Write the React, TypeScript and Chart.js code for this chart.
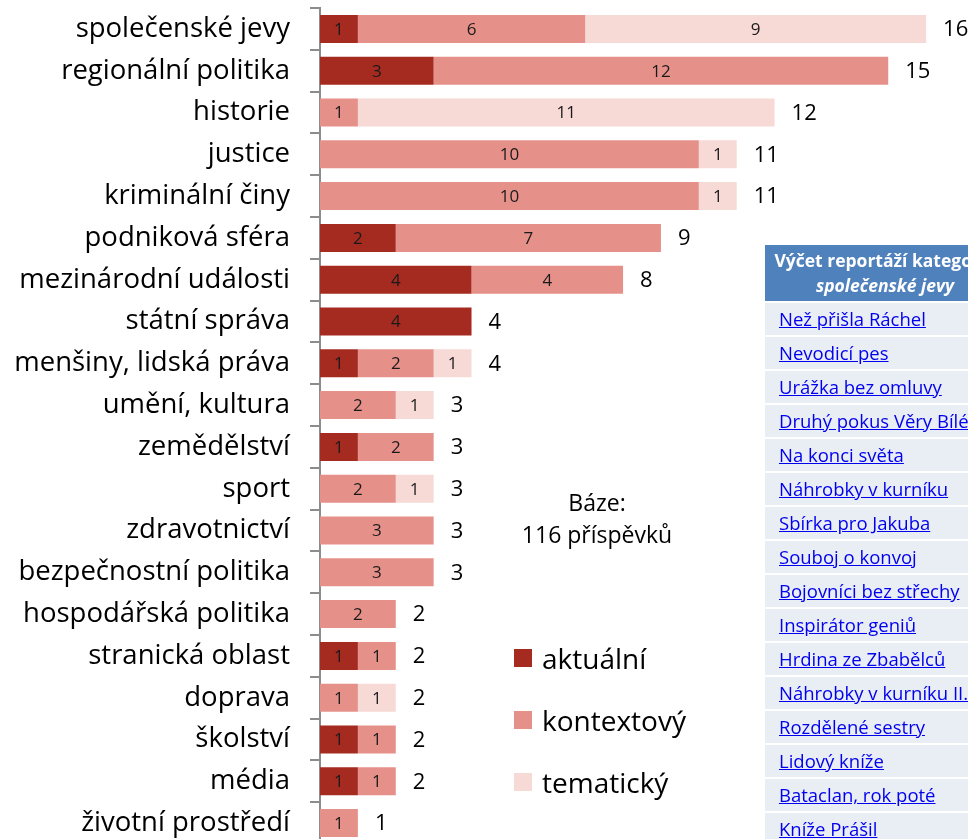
import React, { useEffect, useRef } from "react";
import { Chart, registerables } from "chart.js";
Chart.register(...registerables);

const FONT = "'Open Sans', Lato, sans-serif";

const categories = [
  "společenské jevy",
  "regionální politika",
  "historie",
  "justice",
  "kriminální činy",
  "podniková sféra",
  "mezinárodní události",
  "státní správa",
  "menšiny, lidská práva",
  "umění, kultura",
  "zemědělství",
  "sport",
  "zdravotnictví",
  "bezpečnostní politika",
  "hospodářská politika",
  "stranická oblast",
  "doprava",
  "školství",
  "média",
  "životní prostředí",
];

const aktualni = [1, 3, 0, 0, 0, 2, 4, 4, 1, 0, 1, 0, 0, 0, 0, 1, 0, 1, 1, 0];
const kontextovy = [6, 12, 1, 10, 10, 7, 4, 0, 2, 2, 2, 2, 3, 3, 2, 1, 1, 1, 1, 1];
const tematicky = [9, 0, 11, 1, 1, 0, 0, 0, 1, 1, 0, 1, 0, 0, 0, 0, 1, 0, 0, 0];

const seriesNames = ["aktuální", "kontextový", "tematický"];
const seriesColors = ["#A52B21", "#E6908A", "#F7D9D6"];

const baseText = ["Báze:", "116 příspěvků"];

const tableTitle = ["Výčet reportáží kategorie", "společenské jevy"];
const reportages = [
  "Než přišla Ráchel",
  "Nevodicí pes",
  "Urážka bez omluvy",
  "Druhý pokus Věry Bílé",
  "Na konci světa",
  "Náhrobky v kurníku",
  "Sbírka pro Jakuba",
  "Souboj o konvoj",
  "Bojovníci bez střechy",
  "Inspirátor geniů",
  "Hrdina ze Zbabělců",
  "Náhrobky v kurníku II.",
  "Rozdělené sestry",
  "Lidový kníže",
  "Bataclan, rok poté",
  "Kníže Prášil",
];

export default function App() {
  const ref = useRef<HTMLCanvasElement>(null);

  useEffect(() => {
    if (!ref.current) return;
    const seriesData = [aktualni, kontextovy, tematicky];
    const totals = categories.map((_, i) => aktualni[i] + kontextovy[i] + tematicky[i]);

    const labelsPlugin = {
      id: "valueLabels",
      afterDatasetsDraw(chart: any) {
        const ctx = chart.ctx;
        ctx.save();
        ctx.textAlign = "center";
        ctx.textBaseline = "middle";
        ctx.font = `17px ${FONT}`;
        ctx.fillStyle = "#1a1a1a";
        chart.data.datasets.forEach((ds: any, di: number) => {
          const meta = chart.getDatasetMeta(di);
          meta.data.forEach((el: any, i: number) => {
            const v = ds.data[i];
            if (!v) return;
            const p = el.getProps(["x", "y", "base"], true);
            ctx.fillText(String(v), (p.x + p.base) / 2, p.y + 1);
          });
        });
        const xs = chart.scales.x;
        const ys = chart.scales.y;
        ctx.textAlign = "left";
        ctx.font = `22px ${FONT}`;
        ctx.fillStyle = "#000";
        totals.forEach((t, i) => {
          ctx.fillText(String(t), xs.getPixelForValue(t) + 17, ys.getPixelForValue(i) + 1);
        });
        ctx.restore();
      },
    };

    const chart = new Chart(ref.current, {
      type: "bar",
      data: {
        labels: categories,
        datasets: seriesData.map((d, i) => ({
          label: seriesNames[i],
          data: d,
          backgroundColor: seriesColors[i],
          borderWidth: 0,
          categoryPercentage: 0.67,
          barPercentage: 1,
        })),
      },
      options: {
        indexAxis: "y",
        responsive: false,
        animation: false,
        layout: { padding: { top: 8, bottom: 6, left: 0, right: 36 } },
        plugins: {
          legend: { display: false },
          tooltip: { enabled: false },
        },
        scales: {
          x: { display: false, stacked: true, min: 0, max: 17 },
          y: {
            stacked: true,
            afterFit(scale: any) {
              scale.width = 320;
              scale.paddingTop = 0;
              scale.paddingBottom = 0;
            },
            border: { color: "#8c8c8c", width: 2 },
            grid: {
              drawOnChartArea: false,
              color: "#8c8c8c",
              tickLength: 10,
              lineWidth: 2,
              offset: true,
            },
            ticks: {
              padding: 20,
              color: "#000",
              autoSkip: false,
              font: { family: FONT, size: 27.5 },
            },
          },
        },
      },
      plugins: [labelsPlugin],
    } as any);
    return () => chart.destroy();
  }, []);

  return (
    <div
      style={{
        position: "fixed",
        left: 0,
        top: 0,
        width: 968,
        height: 839,
        overflow: "hidden",
        background: "#fff",
        fontFamily: FONT,
      }}
    >
      <canvas
        ref={ref}
        width={1000}
        height={850}
        style={{ position: "absolute", left: 0, top: 0, width: 1000, height: 850 }}
      />
      <div
        style={{
          position: "absolute",
          left: 497,
          top: 486,
          width: 200,
          textAlign: "center",
          fontSize: 23,
          lineHeight: "32px",
          color: "#000",
        }}
      >
        {baseText.map((t) => (
          <div key={t}>{t}</div>
        ))}
      </div>
      <div style={{ position: "absolute", left: 514, top: 627 }}>
        {seriesNames.map((n, i) => (
          <div
            key={n}
            style={{ display: "flex", alignItems: "center", height: 62, fontSize: 28, color: "#000" }}
          >
            <span
              style={{ display: "inline-block", width: 18, height: 18, background: seriesColors[i], marginRight: 10 }}
            />
            <span>{n}</span>
          </div>
        ))}
      </div>
      <div style={{ position: "absolute", left: 765, top: 245, width: 240 }}>
        <div
          style={{
            background: "#4F81BD",
            color: "#fff",
            fontWeight: "bold",
            fontSize: 17.5,
            textAlign: "center",
            height: 56,
            display: "flex",
            flexDirection: "column",
            justifyContent: "center",
            lineHeight: "25px",
          }}
        >
          <div style={{ whiteSpace: "nowrap" }}>{tableTitle[0]}</div>
          <div style={{ fontStyle: "italic" }}>{tableTitle[1]}</div>
        </div>
        {reportages.map((r) => (
          <div
            key={r}
            style={{
              marginTop: 2,
              height: 32,
              lineHeight: "32px",
              background: "#E9EDF4",
              paddingLeft: 14,
              fontSize: 18.5,
              whiteSpace: "nowrap",
            }}
          >
            <a href="#" style={{ color: "#0000EE", textDecoration: "underline" }}>
              {r}
            </a>
          </div>
        ))}
      </div>
    </div>
  );
}
